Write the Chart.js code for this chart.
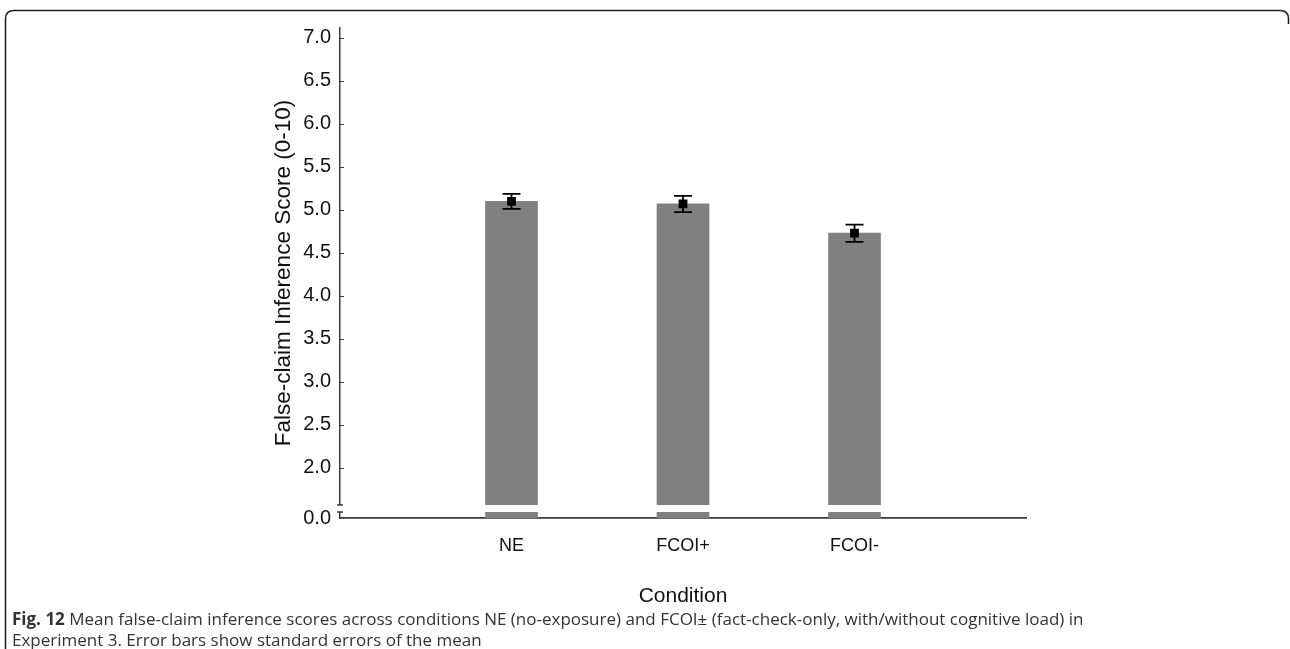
<!DOCTYPE html>
<html>
<head>
<meta charset="utf-8">
<script src="https://cdn.jsdelivr.net/npm/chart.js@4"></script>
<style>
  html, body { margin: 0; padding: 0; background: #fff; }
  #wrap { position: relative; width: 1290px; height: 649px; overflow: hidden; }
  #frame { position: absolute; left: 0; top: 0; }
  #chartBox { position: absolute; left: 0; top: 0; width: 1290px; height: 649px; }
  .caption {
    position: absolute; left: 12px; font-family: "Open Sans", sans-serif;
    font-size: 17px; color: #333; white-space: nowrap;
  }
  .caption b { color: #333; }
</style>
</head>
<body>
<div id="wrap">
  <svg id="frame" width="1290" height="649">
    <path d="M5.5,649 L5.5,19 Q5.5,10.5 14,10.5 L1280,10.5 Q1288.5,10.5 1288.5,19 L1288.5,24"
          fill="none" stroke="#222" stroke-width="1.6"/>
  </svg>
  <div id="chartBox"><canvas id="chart" width="1290" height="649"></canvas></div>
  <div class="caption" style="top:607px"><b>Fig. 12</b> Mean false-claim inference scores across conditions NE (no-exposure) and FCOI± (fact-check-only, with/without cognitive load) in</div>
  <div class="caption" style="top:628px">Experiment 3. Error bars show standard errors of the mean</div>
</div>
<script>
// Conditions and their mean scores with standard errors
const categories = ['NE', 'FCOI+', 'FCOI-'];
const meanScores = [5.10, 5.07, 4.73];
const stdErrors = [0.088, 0.095, 0.10];
const yTickValues = [2.0, 2.5, 3.0, 3.5, 4.0, 4.5, 5.0, 5.5, 6.0, 6.5, 7.0];

// Broken y axis: the bottom of the scale stands for 0.0
const axisFloor = 1.418;
const axisTop = 7.116;
const breakLow = 1.488;
const breakHigh = 1.569;

// Pad the category axis with empty slots on both sides
const xLabels = ['', ...categories, ''];
const barData = [null, ...meanScores, null];
const errData = [null, ...stdErrors, null];

const axisColor = '#3a3a3a';
const fontFamily = '"Liberation Sans", Arial, sans-serif';

const axisDecor = {
  id: 'axisDecor',
  afterDatasetsDraw(chart) {
    const ctx = chart.ctx;
    const x = chart.scales.x, y = chart.scales.y;
    // Error bars
    ctx.save();
    ctx.strokeStyle = '#000';
    ctx.lineWidth = 1.8;
    barData.forEach((m, i) => {
      if (m == null) return;
      const px = x.getPixelForValue(i);
      const top = y.getPixelForValue(m + errData[i]);
      const bot = y.getPixelForValue(m - errData[i]);
      ctx.beginPath();
      ctx.moveTo(px, top); ctx.lineTo(px, bot);
      ctx.moveTo(px - 9, top); ctx.lineTo(px + 9, top);
      ctx.moveTo(px - 9, bot); ctx.lineTo(px + 9, bot);
      ctx.stroke();
    });
    ctx.restore();
  },
  afterDraw(chart) {
    const ctx = chart.ctx;
    const y = chart.scales.y;
    const area = chart.chartArea;
    const ax = area.left;
    const yHi = y.getPixelForValue(breakHigh);
    const yLo = y.getPixelForValue(breakLow);
    ctx.save();
    // White band marking the axis break
    ctx.fillStyle = '#fff';
    ctx.fillRect(ax - 3, yHi, area.right - ax + 3, yLo - yHi);
    // Break marks on the y axis
    ctx.strokeStyle = axisColor;
    ctx.lineWidth = 1.5;
    ctx.beginPath();
    ctx.moveTo(ax - 3, yHi); ctx.lineTo(ax + 3, yHi);
    ctx.moveTo(ax - 3, yLo); ctx.lineTo(ax + 3, yLo);
    ctx.stroke();
    // Small inward tick marks
    ctx.lineWidth = 1.2;
    ctx.beginPath();
    yTickValues.forEach(v => {
      const py = Math.round(y.getPixelForValue(v)) + 0.5;
      ctx.moveTo(ax, py); ctx.lineTo(ax + 4, py);
    });
    ctx.stroke();
    ctx.restore();
  }
};

new Chart(document.getElementById('chart'), {
  data: {
    labels: xLabels,
    datasets: [
      {
        type: 'line',
        data: barData,
        showLine: false,
        pointStyle: 'rect',
        pointRadius: 6.2,
        pointHoverRadius: 6.2,
        pointBackgroundColor: '#000',
        pointBorderColor: '#000',
        pointBorderWidth: 0,
        order: 0
      },
      {
        type: 'bar',
        data: barData,
        backgroundColor: '#808080',
        borderWidth: 0,
        barThickness: 52,
        order: 1
      }
    ]
  },
  options: {
    responsive: false,
    animation: false,
    events: [],
    layout: { padding: { left: 266, top: 28, right: 264, bottom: 36 } },
    plugins: { legend: { display: false }, tooltip: { enabled: false } },
    scales: {
      x: {
        type: 'category',
        offset: false,
        grid: { display: true, drawOnChartArea: false, drawTicks: false },
        border: { display: true, color: axisColor, width: 1.8 },
        ticks: {
          color: '#111', padding: 17,
          font: { family: fontFamily, size: 18 },
          autoSkip: false, maxRotation: 0
        },
        title: {
          display: true, text: 'Condition', color: '#111',
          font: { family: fontFamily, size: 21 }, padding: { top: 4, bottom: 4 }
        },
        afterFit(scale) { scale.height = 95; }
      },
      y: {
        type: 'linear',
        min: axisFloor,
        max: axisTop,
        grid: { display: true, drawOnChartArea: false, drawTicks: false },
        border: { display: true, color: axisColor, width: 1.5 },
        afterBuildTicks(scale) {
          scale.ticks = [{ value: axisFloor }, ...yTickValues.map(v => ({ value: v }))];
        },
        ticks: {
          color: '#111', padding: 9,
          font: { family: fontFamily, size: 20 },
          callback: v => (v === axisFloor ? '0.0' : Number(v).toFixed(1))
        },
        title: {
          display: true, text: 'False-claim Inference Score (0-10)', color: '#111',
          font: { family: fontFamily, size: 22.5 }, padding: { top: 4, bottom: 4 }
        },
        afterFit(scale) { scale.width = 74; }
      }
    }
  },
  plugins: [axisDecor]
});
</script>
</body>
</html>
